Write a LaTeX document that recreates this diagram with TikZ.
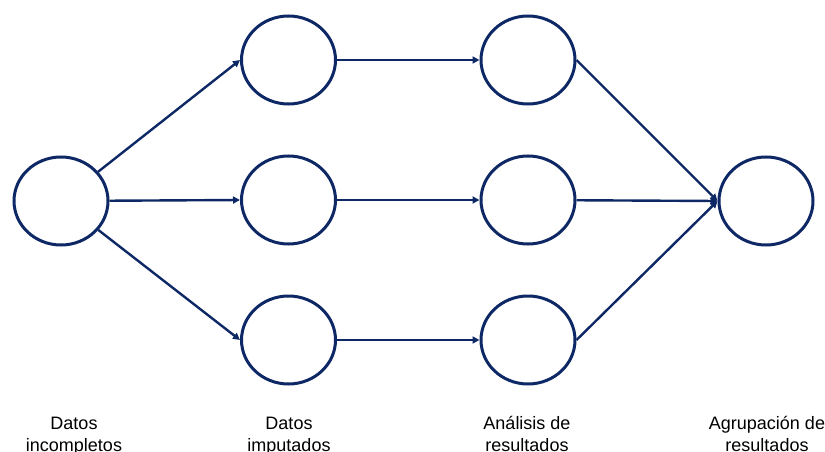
\documentclass[tikz,border=0pt]{standalone}
\usepackage{fontspec}
\setmainfont{Liberation Sans}
\usetikzlibrary{shapes.geometric,arrows.meta}
\definecolor{navy}{RGB}{14,40,102}
\begin{document}
\begin{tikzpicture}[x=1pt,y=1pt,
  circ/.style={ellipse, draw=navy, line width=3pt, minimum width=94pt, minimum height=88pt, inner sep=0pt},
  arr/.style={draw=navy, line width=2.4pt, -{Triangle[length=7pt,width=7pt]}},
  lbl/.style={align=center, anchor=base, inner sep=0pt, font=\fontsize{18}{21.5}\selectfont}]
\useasboundingbox (0,0) rectangle (825,451);
\node[circ] (A) at (61,250) {};
\node[circ] (B1) at (288.5,391) {};
\node[circ] (B2) at (288.5,251) {};
\node[circ] (B3) at (288.5,111) {};
\node[circ] (C1) at (528,391) {};
\node[circ] (C2) at (528,251) {};
\node[circ] (C3) at (528,111) {};
\node[circ] (D) at (766,250) {};
\draw[arr] (A) -- (B1.west);
\draw[arr] (A) -- (B2.west);
\draw[arr] (A) -- (B3.west);
\draw[arr] (B1) -- (C1.west);
\draw[arr] (B2) -- (C2.west);
\draw[arr] (B3) -- (C3.west);
\draw[arr] (C1.east) -- (D.west);
\draw[arr] (C2) -- (D.west);
\draw[arr] (C3.east) -- (D.west);
\node[lbl] (LA) at (74,0) {Datos\\incompletos};
\node[lbl] (LB) at (289,0) {Datos\\imputados};
\node[lbl] (LC) at (527,0) {Análisis de\\resultados};
\node[lbl] (LD) at (767,0) {Agrupación de\\resultados};
\end{tikzpicture}
\end{document}
